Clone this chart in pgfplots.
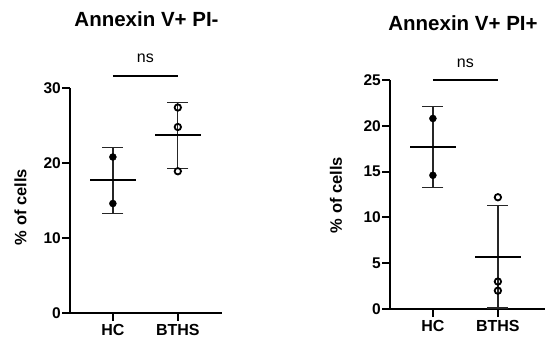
\documentclass[border=0pt]{standalone}
\usepackage{pgfplots}
\pgfplotsset{compat=1.18}
\usepackage{fontspec}
\setmainfont{Liberation Sans}

\pgfplotsset{
  mystyle/.style={
    scale only axis,
    axis lines=left,
    axis line style={-, line width=2.2bp, black},
    tick style={line width=2bp, black},
    tick align=outside,
    major tick length=8bp,
    xtick={0,1}, xticklabels={HC,BTHS},
    x tick label style={font=\fontsize{16bp}{16bp}\selectfont\bfseries, yshift=0bp},
    y tick label style={font=\fontsize{15.5bp}{15.5bp}\selectfont\bfseries, inner xsep=1bp},
    /pgf/number format/assume math mode=true,
    clip=false,
  },
  meanline/.style={line width=2bp, black},
  errbar/.style={draw=none, mark=none, forget plot,
    error bars/.cd, y dir=both, y explicit,
    error bar style={line width=1.3bp, black!85},
    error mark options={rotate=90, mark size=10.5bp, line width=1.3bp, black!85}},
}

\begin{document}
\begin{tikzpicture}[x=1bp,y=1bp]
\useasboundingbox (0,0) rectangle (546,345);

% ---------- left panel ----------
\begin{axis}[mystyle, at={(70bp,32bp)}, anchor=south west,
  width=152bp, height=225bp,
  xmin=-0.66, xmax=1.68, ymin=0, ymax=30, ytick={0,10,20,30}]
\addplot[errbar] coordinates {(0,17.7) +- (0,4.4) (1,23.7) +- (0,4.4)};
\addplot[meanline] coordinates {(-0.35,17.7) (0.35,17.7)};
\addplot[meanline] coordinates {(0.65,23.7) (1.35,23.7)};
\addplot[only marks, mark=*, mark size=3.5bp, black] coordinates {(0,20.8) (0,14.6)};
\addplot[only marks, mark=o, mark size=3.2bp, mark options={line width=1.8bp, fill=white}, black] coordinates {(1,27.4) (1,24.8) (1,18.9)};
\addplot[line width=2bp, black] coordinates {(0,31.6) (1,31.6)};
\node[font=\fontsize{16bp}{16bp}\selectfont] at (axis cs:0.5,33.9) {ns};
\end{axis}

% ---------- right panel ----------
\begin{axis}[mystyle, at={(390bp,36bp)}, anchor=south west,
  width=155bp, height=229bp,
  xmin=-0.66, xmax=1.725, ymin=0, ymax=25, ytick={0,5,10,15,20,25}]
\addplot[errbar] coordinates {(0,17.7) +- (0,4.4) (1,5.7) +- (0,5.6)};
\addplot[meanline] coordinates {(-0.35,17.7) (0.35,17.7)};
\addplot[meanline] coordinates {(0.65,5.7) (1.35,5.7)};
\addplot[only marks, mark=*, mark size=3.5bp, black] coordinates {(0,20.8) (0,14.6)};
\addplot[only marks, mark=o, mark size=3.2bp, mark options={line width=1.8bp, fill=white}, black] coordinates {(1,12.2) (1,3.0) (1,2.0)};
\addplot[line width=2bp, black] coordinates {(0,25.0) (1,25.0)};
\node[font=\fontsize{16bp}{16bp}\selectfont] at (axis cs:0.5,26.8) {ns};
\end{axis}

% titles and axis labels
\node[font=\fontsize{20.5bp}{20.5bp}\selectfont\bfseries] at (146.5,326.3) {Annexin V+ PI-};
\node[font=\fontsize{20.5bp}{20.5bp}\selectfont\bfseries] at (463,321.5) {Annexin V+ PI+};
\node[font=\fontsize{16.5bp}{16.5bp}\selectfont\bfseries, rotate=90] at (20.5,138) {\% of cells};
\node[font=\fontsize{16.5bp}{16.5bp}\selectfont\bfseries, rotate=90] at (336,150) {\% of cells};
\end{tikzpicture}
\end{document}
